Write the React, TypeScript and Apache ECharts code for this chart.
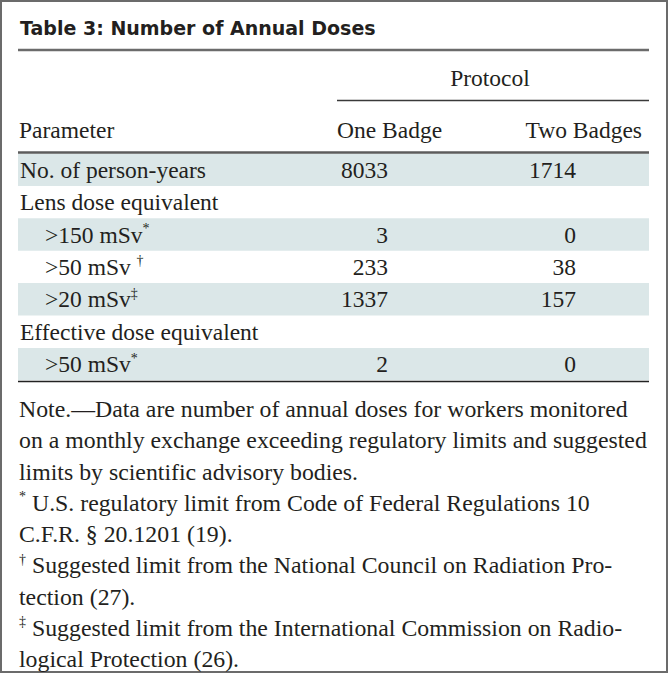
import React, { useEffect, useRef } from "react";
import * as echarts from "echarts";

const title = "Table 3: Number of Annual Doses";
const groupHeader = "Protocol";
const columnHeaders = ["Parameter", "One Badge", "Two Badges"];
const rowLabels = [
  "No. of person-years",
  "Lens dose equivalent",
  ">150 mSv",
  ">50 mSv ",
  ">20 mSv",
  "Effective dose equivalent",
  ">50 mSv",
];
const rowMarks = ["", "", "*", "†", "‡", "", "*"];
const rowIndent = [false, false, true, true, true, false, true];
const oneBadge: (number | null)[] = [8033, null, 3, 233, 1337, null, 2];
const twoBadges: (number | null)[] = [1714, null, 0, 38, 157, null, 0];
const noteMarks = ["", "", "", "*", "", "†", "", "‡", ""];
const noteLines = [
  "Note.—Data are number of annual doses for workers monitored",
  "on a monthly exchange exceeding regulatory limits and suggested",
  "limits by scientific advisory bodies.",
  " U.S. regulatory limit from Code of Federal Regulations 10",
  "C.F.R. § 20.1201 (19).",
  " Suggested limit from the National Council on Radiation Pro-",
  "tection (27).",
  " Suggested limit from the International Commission on Radio-",
  "logical Protection (26).",
];

const INK = "#231f20";
const SHADE = "#dbe7e8";
const SERIF = "'Liberation Serif', 'Times New Roman', serif";

const esc = (s: string) => s.replace(/[{}|]/g, "");

// parts: [text, isSup]
function textEl(x: number, y: number, parts: [string, boolean][], align: string, fs: number) {
  const text = parts
    .filter(([t]) => t.length > 0)
    .map(([t, sup]) => `{${sup ? "s" : "n"}|${esc(t)}}`)
    .join("");
  return {
    type: "text",
    x,
    y,
    style: {
      text,
      align,
      verticalAlign: "middle",
      textAlign: align,
      textVerticalAlign: "middle",
      fill: INK,
      rich: {
        n: { fontFamily: SERIF, fontSize: fs, lineHeight: 28, fill: INK, verticalAlign: "middle" },
        s: { fontFamily: SERIF, fontSize: 14, lineHeight: 28, fill: INK, verticalAlign: "top", padding: [1, 0, 0, 0] },
      },
    },
  };
}

export default function App() {
  const ref = useRef<HTMLDivElement>(null);
  useEffect(() => {
    document.body.style.margin = "0";
    const chart = echarts.init(ref.current!, null, { renderer: "svg" });
    const L = 18;
    const R = 649;
    const rowTop = 153.5;
    const rowH = 32.4;
    const FS = 23.5;
    const elements: any[] = [];
    elements.push({
      type: "rect",
      shape: { x: 1, y: 1, width: 666, height: 671 },
      style: { fill: "#fff", stroke: "#6b6b6b", lineWidth: 2 },
    });
    elements.push({
      type: "text",
      x: 20,
      y: 28,
      style: {
        text: title,
        align: "left",
        verticalAlign: "middle",
        textAlign: "left",
        textVerticalAlign: "middle",
        fill: INK,
        fontFamily: "'DejaVu Sans', sans-serif",
        fontWeight: "bold",
        fontSize: 19,
      },
    });
    elements.push({
      type: "line",
      shape: { x1: L, y1: 50, x2: R, y2: 50 },
      style: { stroke: "#6b6b6b", lineWidth: 2.5 },
    });
    elements.push(textEl(490, 78, [[groupHeader, false]], "center", FS));
    elements.push({
      type: "line",
      shape: { x1: 337, y1: 100.5, x2: R, y2: 100.5 },
      style: { stroke: "#3a3a3a", lineWidth: 1.5 },
    });
    elements.push(textEl(19, 130, [[columnHeaders[0], false]], "left", FS));
    elements.push(textEl(337, 130, [[columnHeaders[1], false]], "left", FS));
    elements.push(textEl(642, 130, [[columnHeaders[2], false]], "right", FS));
    rowLabels.forEach((_, i) => {
      if (i % 2 === 0) {
        elements.push({
          type: "rect",
          shape: { x: L, y: rowTop + i * rowH, width: R - L, height: rowH },
          style: { fill: SHADE },
        });
      }
    });
    elements.push({
      type: "line",
      shape: { x1: L, y1: 152.5, x2: R, y2: 152.5 },
      style: { stroke: "#5c5c5c", lineWidth: 2.5 },
    });
    rowLabels.forEach((label, i) => {
      const cy = rowTop + i * rowH + rowH / 2;
      const x = rowIndent[i] ? 45 : 20;
      elements.push(textEl(x, cy, [[label, false], [rowMarks[i], true]], "left", FS));
      if (oneBadge[i] !== null) elements.push(textEl(388, cy, [[String(oneBadge[i]), false]], "right", FS));
      if (twoBadges[i] !== null) elements.push(textEl(576, cy, [[String(twoBadges[i]), false]], "right", FS));
    });
    elements.push({
      type: "line",
      shape: { x1: L, y1: 381.5, x2: R, y2: 381.5 },
      style: { stroke: "#222", lineWidth: 1.5 },
    });
    noteLines.forEach((line, i) => {
      const cy = 409 + i * 31.25;
      elements.push(textEl(19, cy, [[noteMarks[i], true], [line, false]], "left", 23.8));
    });
    chart.setOption({
      animation: false,
      graphic: { elements },
    });
    return () => chart.dispose();
  }, []);
  return (
    <div
      ref={ref}
      style={{ position: "absolute", left: 0, top: 0, width: 668, height: 673 }}
    />
  );
}
